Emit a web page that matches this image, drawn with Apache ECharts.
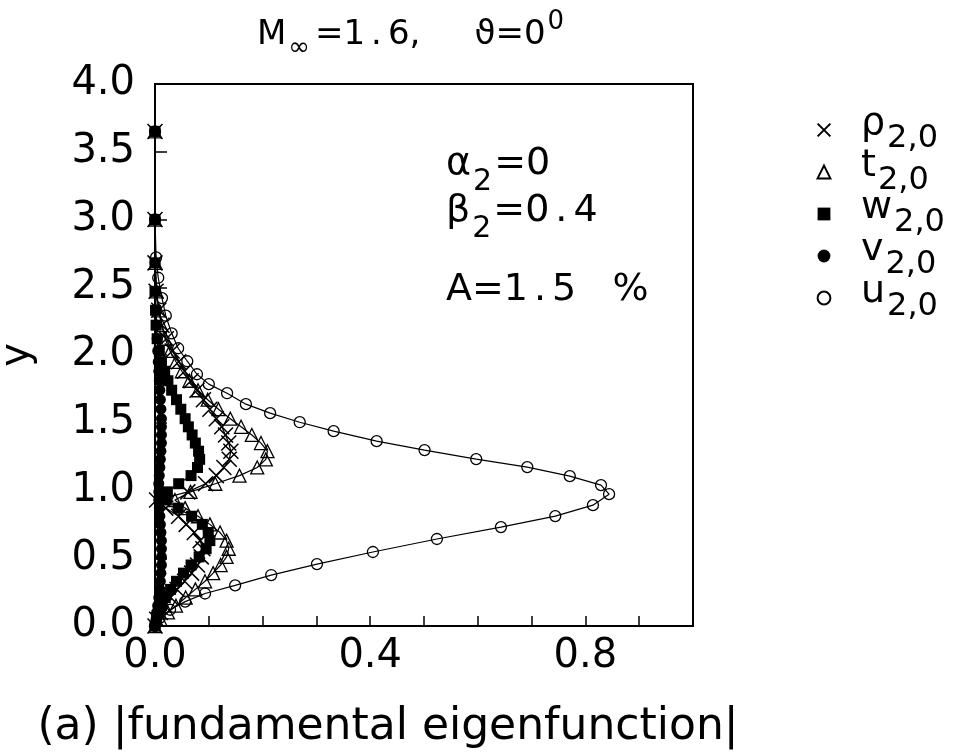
<!DOCTYPE html>
<html><head><meta charset="utf-8">
<script src="https://cdn.jsdelivr.net/npm/echarts@6/dist/echarts.min.js"></script>
<style>html,body{margin:0;padding:0;background:#fff}#c{width:956px;height:755px}</style>
</head><body><div id="c"></div>
<script>
// ---- data ----
const seriesNames = ['ρ2,0', 't2,0', 'w2,0', 'v2,0', 'u2,0'];
const xTickLabels = ['0.0', '0.4', '0.8'];
const yTickLabels = ['0.0', '0.5', '1.0', '1.5', '2.0', '2.5', '3.0', '3.5', '4.0'];

// wall-normal grid points shared by rho, t, w, v
const yGrid = [3.65,3.0,2.68,2.47,2.33,2.22,2.12,2.03,1.95,1.88,1.81,1.74,1.67,1.60,1.53,1.47,1.41,1.35,1.29,1.23,1.17,1.11,1.05,0.99,0.93,0.87,0.81,0.75,0.69,0.63,0.57,0.51,0.45,0.39,0.33,0.27,0.21,0.15,0.10,0.05,0];
const rhoX = [0,0,0,0.002,0.007,0.013,0.021,0.032,0.044,0.055,0.067,0.078,0.090,0.102,0.114,0.124,0.131,0.137,0.141,0.138,0.128,0.114,0.094,0.061,0.003,0.020,0.044,0.058,0.073,0.084,0.089,0.086,0.079,0.068,0.055,0.041,0.029,0.018,0.010,0.003,0];
const tX = [0,0,0.001,0.003,0.007,0.012,0.019,0.028,0.039,0.050,0.064,0.080,0.098,0.118,0.140,0.160,0.180,0.197,0.209,0.206,0.190,0.157,0.112,0.066,0.037,0.056,0.080,0.102,0.121,0.133,0.137,0.133,0.122,0.108,0.093,0.075,0.057,0.039,0.024,0.010,0];
const wX = [0,0,0,0,0.001,0.002,0.004,0.008,0.012,0.018,0.024,0.031,0.040,0.048,0.056,0.062,0.069,0.075,0.081,0.083,0.079,0.067,0.044,0.023,0.021,0.043,0.068,0.088,0.099,0.102,0.095,0.082,0.067,0.053,0.040,0.029,0.019,0.012,0.007,0.003,0];
const vX = [0,0,0,0.001,0.002,0.003,0.004,0.005,0.006,0.007,0.008,0.009,0.010,0.011,0.012,0.012,0.012,0.012,0.011,0.010,0.009,0.008,0.007,0.007,0.007,0.008,0.009,0.010,0.011,0.012,0.012,0.012,0.012,0.011,0.010,0.009,0.007,0.005,0.003,0.002,0];

const uX = [0,0.009,0.028,0.056,0.093,0.149,0.216,0.301,0.405,0.524,0.643,0.744,0.814,0.844,0.829,0.771,0.692,0.597,0.501,0.412,0.332,0.269,0.214,0.169,0.134,0.100,0.078,0.060,0.043,0.031,0.020,0.013,0.006,0.002,0,0];
const uY = [0,0.06,0.12,0.18,0.24,0.30,0.376,0.457,0.546,0.642,0.730,0.811,0.892,0.973,1.040,1.106,1.173,1.232,1.298,1.364,1.438,1.504,1.571,1.637,1.718,1.785,1.858,1.954,2.05,2.16,2.29,2.42,2.57,2.72,3.0,3.65];

function pairs(xs, ys) { const n = Math.min(xs.length, ys.length); const out = []; for (let i = 0; i < n; i++) out.push([xs[i], ys[i]]); return out; }

const FONT = 'DejaVu Sans';
const crossPath = 'path://M0,0L10,10M10,0L0,10';

const common = { type: 'line', showAllSymbol: true, smooth: false, lineStyle: { color: '#000', width: 1.2 }, emphasis: { disabled: true }, animation: false };

function subRich(size, subSize) {
  return {
    g: { fontFamily: FONT, fontSize: size, fill: '#000', lineHeight: 52, verticalAlign: 'top' },
    p: { fontFamily: FONT, fontSize: size, fill: '#000', lineHeight: 52, verticalAlign: 'top', padding: [0, 6, 0, 6] },
    s: { fontFamily: FONT, fontSize: subSize, fill: '#000', lineHeight: 52, verticalAlign: 'bottom', padding: [0, 2, 0, 2] }
  };
}

const chart = echarts.init(document.getElementById('c'), null, { renderer: 'canvas' });
chart.setOption({
  backgroundColor: '#fff',
  animation: false,
  title: {
    left: 252, top: 4,
    text: '{a|M}{sub|∞}{a|=1}{p|.}{a|6,}{a|     ϑ=0}{sup|0}',
    textStyle: {
      fontWeight: 'normal',
      rich: {
        a: { fontFamily: FONT, fontSize: 34, fontWeight: 'normal', color: '#000', lineHeight: 52, verticalAlign: 'middle' },
        p: { fontFamily: FONT, fontSize: 34, fontWeight: 'normal', color: '#000', lineHeight: 52, verticalAlign: 'middle', padding: [0, 6, 0, 6] },
        sub: { fontFamily: FONT, fontSize: 26, fontWeight: 'normal', color: '#000', lineHeight: 52, verticalAlign: 'bottom', padding: [0, 5, 0, 2] },
        sup: { fontFamily: FONT, fontSize: 26, fontWeight: 'normal', color: '#000', lineHeight: 52, verticalAlign: 'top', padding: [0, 0, 0, 2] }
      }
    }
  },
  legend: {
    orient: 'vertical', left: 810, top: 100,
    itemWidth: 16, itemHeight: 16, itemGap: -8,
    data: seriesNames,
    lineStyle: { opacity: 0 },
    selectedMode: false,
    formatter: function (name) { return '{m|' + name.charAt(0) + '}{s|' + name.slice(1) + '}'; },
    textStyle: {
      rich: {
        m: { fontFamily: FONT, fontSize: 38, color: '#000', lineHeight: 50, verticalAlign: 'top', padding: [0, 0, 0, 24] },
        s: { fontFamily: FONT, fontSize: 32, color: '#000', lineHeight: 50, verticalAlign: 'bottom', padding: [0, 0, 0, 2] }
      }
    }
  },
  grid: { left: 155, right: 263, top: 84, bottom: 129, containLabel: false, outerBoundsMode: 'none',
    show: true, borderColor: '#000', borderWidth: 2, backgroundColor: 'transparent' },
  xAxis: {
    type: 'value', min: 0, max: 1, interval: 0.1,
    name: '(a) |fundamental eigenfunction|', nameLocation: 'middle', nameGap: 80,
    nameTextStyle: { fontFamily: FONT, fontSize: 44, color: '#000', padding: [0, 72, 0, 0] },
    axisLine: { show: true, lineStyle: { color: '#000', width: 2 } },
    axisTick: { show: true, inside: true, length: 10, lineStyle: { color: '#000', width: 1.5 } },
    axisLabel: { fontFamily: FONT, fontSize: 40, color: '#000', margin: 11, showMaxLabel: true,
      formatter: function (v) { const s = v.toFixed(1); return xTickLabels.indexOf(s) >= 0 ? s : ''; } },
    splitLine: { show: false }
  },
  yAxis: {
    type: 'value', min: 0, max: 4, interval: 0.5,
    name: 'y', nameLocation: 'middle', nameGap: 117, nameRotate: 90,
    nameTextStyle: { fontFamily: FONT, fontSize: 40, color: '#000' },
    axisLine: { show: true, lineStyle: { color: '#000', width: 2 } },
    axisTick: { show: true, inside: true, length: 12, lineStyle: { color: '#000', width: 1.5 } },
    axisLabel: { fontFamily: FONT, fontSize: 40, color: '#000', margin: 20,
      formatter: function (v) { const s = v.toFixed(1); return yTickLabels.indexOf(s) >= 0 ? s : ''; } },
    splitLine: { show: false }
  },
  graphic: [
    { type: 'text', x: 446, y: 145, z: 100, style: { text: '{g|α}{s|2}{g|=0}', rich: subRich(38, 30) } },
    { type: 'text', x: 446, y: 192, z: 100, style: { text: '{g|β}{s|2}{g|=0}{p|.}{g|4}', rich: subRich(38, 30) } },
    { type: 'text', x: 446, y: 271, z: 100, style: { text: '{g|A=1}{p|.}{g|5   %}', rich: subRich(38, 30) } }
  ],
  series: [
    Object.assign({}, common, { name: seriesNames[4], z: 2, data: pairs(uX, uY), symbol: 'circle', symbolSize: 11,
      itemStyle: { color: 'rgba(0,0,0,0)', borderColor: '#000', borderWidth: 1.3 } }),
    Object.assign({}, common, { name: seriesNames[3], z: 3, data: pairs(vX, yGrid), symbol: 'circle', symbolSize: 11,
      itemStyle: { color: '#000', borderColor: '#000', borderWidth: 0 } }),
    Object.assign({}, common, { name: seriesNames[2], z: 4, data: pairs(wX, yGrid), symbol: 'rect', symbolSize: 11,
      itemStyle: { color: '#000', borderColor: '#000', borderWidth: 0 } }),
    Object.assign({}, common, { name: seriesNames[1], z: 5, data: pairs(tX, yGrid), symbol: 'triangle', symbolSize: 13,
      itemStyle: { color: 'rgba(0,0,0,0)', borderColor: '#000', borderWidth: 1.3 } }),
    Object.assign({}, common, { name: seriesNames[0], z: 6, data: pairs(rhoX, yGrid), symbol: crossPath, symbolSize: 15,
      itemStyle: { color: 'rgba(0,0,0,0)', borderColor: '#000', borderWidth: 1.5 } })
  ]
});
</script></body></html>
